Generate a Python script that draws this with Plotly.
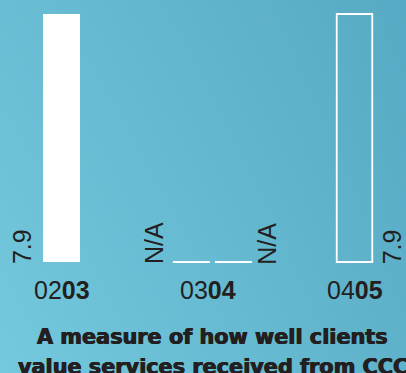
import plotly.graph_objects as go

# Chart data
years_plain = ["02", "03", "04"]
years_bold = ["03", "04", "05"]
scores = [7.9, None, 7.9]          # None = not available
score_text = ["7.9", "N/A", "7.9"]
title_lines = ["A measure of how well clients", "value services received from CCC"]

W, H = 406, 373
BAR_W = 0.2526
INK = "#231f20"
FONT = "Liberation Sans, Arial, sans-serif"
HEAVY = "DejaVu Sans, Arial Black, sans-serif"

fig = go.Figure()

# Soft diagonal background wash on the base axis pair
fig.add_trace(go.Heatmap(
    z=[[1.0, 0.25], [0.62, 0.0]], x=[0, 1], y=[0, 1],
    zsmooth="best", showscale=False, hoverinfo="skip",
    colorscale=[[0, "#57aac3"], [1, "#74c9de"]],
    xaxis="x", yaxis="y",
))

idx = list(range(len(scores)))

# 0203: solid white bar
fig.add_trace(go.Bar(
    x=[idx[0]], y=[scores[0]], width=BAR_W,
    marker=dict(color="white", line=dict(width=0)), hoverinfo="skip",
    xaxis="x2", yaxis="y2",
))
# 0405: outlined bar
fig.add_trace(go.Bar(
    x=[idx[2]], y=[scores[2]], width=BAR_W - 0.01,
    marker=dict(color="rgba(0,0,0,0)", line=dict(color="white", width=1.8)),
    hoverinfo="skip", xaxis="x2", yaxis="y2",
))

# 0304: two flat baseline strokes for the missing values
gap = 0.0341
mid = idx[1] + 0.03
for side in (-1, 1):
    c = mid + side * (BAR_W / 2 + gap / 2)
    fig.add_trace(go.Scatter(
        x=[c - BAR_W / 2, c + BAR_W / 2], y=[0, 0], mode="lines",
        line=dict(color="white", width=2), hoverinfo="skip",
        xaxis="x2", yaxis="y2",
    ))

ann = []
# Year labels
for i in idx:
    ann.append(dict(
        x=i, y=-0.9, xref="x2", yref="y2", showarrow=False,
        text=f"{years_plain[i]}<b>{years_bold[i]}</b>",
        font=dict(family=FONT, size=25, color=INK),
        xanchor="center", yanchor="middle",
    ))

# Rotated value labels
label_pos = [
    (idx[0] - BAR_W / 2 - 0.142, score_text[0]),
    (mid - BAR_W - gap / 2 - 0.125, score_text[1]),
    (mid + BAR_W + gap / 2 + 0.106, score_text[1]),
    (idx[2] + BAR_W / 2 + 0.126, score_text[2]),
]
for xv, t in label_pos:
    ann.append(dict(
        x=xv, y=-0.14, xref="x2", yref="y2", showarrow=False, text=t,
        textangle=-90, font=dict(family=FONT, size=25, color=INK),
        xanchor="center", yanchor="bottom",
    ))

# Caption, one annotation per line
for k, (line, ypx) in enumerate(zip(title_lines, (337, 367))):
    ann.append(dict(
        x=212.5 / W, y=1 - ypx / H, xref="paper", yref="paper", showarrow=False,
        text=f"<b>{line}</b>", align="center",
        font=dict(family=HEAVY, size=20.8, color=INK,
                  shadow="0.5px 0 0 #231f20, -0.5px 0 0 #231f20"),
        xanchor="center", yanchor="middle",
    ))

px_per_cat = 146.5
x0 = -61.5 / px_per_cat
px_per_unit = 248 / 7.9
fig.update_layout(
    width=W, height=H, margin=dict(l=0, r=0, t=0, b=0),
    paper_bgcolor="#62b9cf", plot_bgcolor="rgba(0,0,0,0)",
    showlegend=False, barmode="overlay",
    xaxis=dict(range=[0, 1], visible=False, domain=[0, 1]),
    yaxis=dict(range=[0, 1], visible=False, domain=[0, 1]),
    xaxis2=dict(range=[x0, x0 + W / px_per_cat], visible=False,
                overlaying="x", domain=[0, 1]),
    yaxis2=dict(range=[-(H - 262) / px_per_unit, 7.9 + 14 / px_per_unit],
                visible=False, overlaying="y", domain=[0, 1]),
    annotations=ann,
)

fig.write_html("out.html", config={"displayModeBar": False})
